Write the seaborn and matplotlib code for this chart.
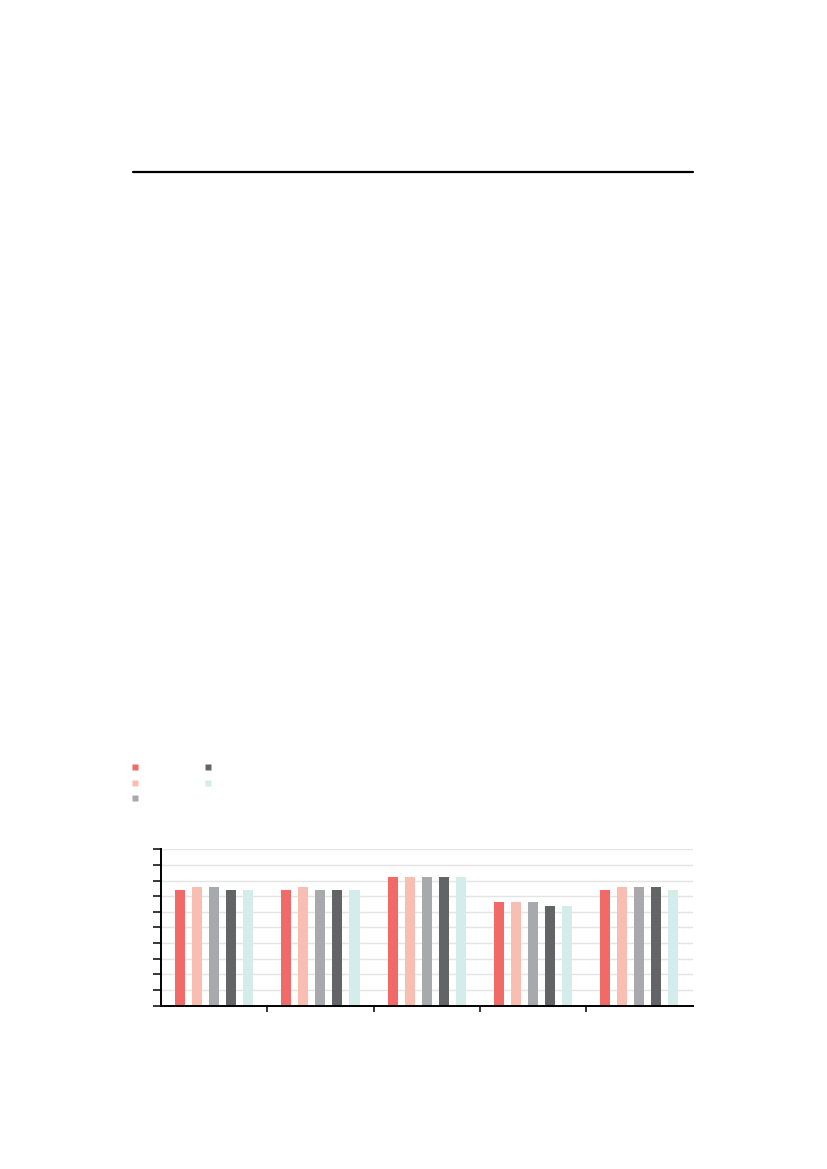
import pandas as pd
import matplotlib
matplotlib.use("Agg")
import matplotlib.pyplot as plt
from matplotlib.lines import Line2D
import numpy as np
import seaborn as sns

# data
groups = ["G1", "G2", "G3", "G4", "G5"]
series = ["S1", "S2", "S3", "S4", "S5"]
values_s1 = [0.74, 0.74, 0.82, 0.66, 0.74]
values_s2 = [0.76, 0.76, 0.82, 0.66, 0.76]
values_s3 = [0.76, 0.74, 0.82, 0.66, 0.76]
values_s4 = [0.74, 0.74, 0.82, 0.64, 0.76]
values_s5 = [0.74, 0.74, 0.82, 0.64, 0.74]
colors = ["#F26A68", "#F9BEB2", "#A8A9AC", "#636466", "#D5EDEA"]

all_vals = [values_s1, values_s2, values_s3, values_s4, values_s5]
rows = []
for s, vals in zip(series, all_vals):
    for g, v in zip(groups, vals):
        rows.append({"group": g, "series": s, "value": v})
df = pd.DataFrame(rows)

sns.set_style("white")
fig = plt.figure(figsize=(8.27, 11.69), dpi=100)
ax = fig.add_axes([0.1947, 0.1397, 0.6427, 0.1338])

sns.barplot(data=df, x="group", y="value", hue="series", palette=colors,
            width=0.8, saturation=1, ax=ax, legend=False, edgecolor="none")

# make bars thinner than their slots
for p in ax.patches:
    w = p.get_width()
    nw = w * 0.59
    p.set_x(p.get_x() + (w - nw) / 2)
    p.set_width(nw)

ax.set_xlim(-0.5, len(groups) - 0.5)
ax.set_ylim(0, 1.0)
ax.set_yticks(np.arange(0, 1.01, 0.1))
ax.set_xticks(np.arange(0.5, len(groups) - 0.5, 1))
ax.tick_params(axis="both", labelleft=False, labelbottom=False,
               direction="out", color="black")
ax.tick_params(axis="y", length=5.8, width=1.1, left=True)
ax.tick_params(axis="x", length=4.5, width=1.1, bottom=True)
ax.yaxis.grid(True, color="#E4E4E4", linewidth=1)
ax.set_axisbelow(True)
ax.set_xlabel("")
ax.set_ylabel("")
for side in ["top", "right"]:
    ax.spines[side].set_visible(False)
for side in ["left", "bottom"]:
    ax.spines[side].set_color("black")
    ax.spines[side].set_linewidth(1.4)

handles = [Line2D([], [], marker="s", linestyle="none", markersize=5,
                  markerfacecolor=c, markeredgecolor="none") for c in colors]
fig.legend(handles, ["" for _ in series], ncol=2, loc="upper left",
           bbox_to_anchor=(0.1545, 0.3490), frameon=False, fontsize=10,
           handlelength=1.0, handletextpad=0.0, columnspacing=4.25,
           labelspacing=0.12, borderaxespad=0, borderpad=0)

# thick rule near the top of the page
fig.add_artist(Line2D([133 / 827, 693 / 827], [1 - 172 / 1169, 1 - 172 / 1169],
                      color="black", linewidth=1.6))

fig.savefig("out.png", dpi=100)
